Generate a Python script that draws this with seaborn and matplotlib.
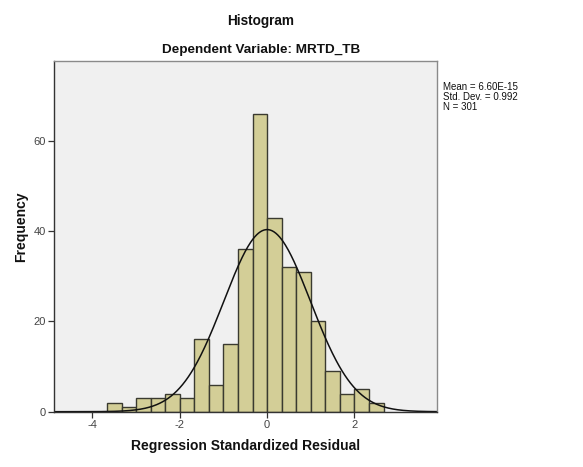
import numpy as np
import pandas as pd
import matplotlib
matplotlib.use("Agg")
import matplotlib.pyplot as plt
import seaborn as sns

# ---- data ----
bin_start = -11 / 3
bin_width = 1 / 3
counts = [2, 1, 3, 3, 4, 3, 16, 6, 15, 36, 66, 43, 32, 31, 20, 9, 4, 5, 2]
mean_val = 6.60e-15
std_val = 0.992
n_obs = 301
x_ticks = [-4, -2, 0, 2]
y_ticks = [0, 20, 40, 60]
title1 = "Histogram"
title2 = "Dependent Variable: MRTD_TB"
x_label = "Regression Standardized Residual"
y_label = "Frequency"
stats_text = "Mean = 6.60E-15\nStd. Dev. = 0.992\nN = 301"

sns.set_style("white")
plt.rcParams["font.family"] = ["Liberation Sans", "DejaVu Sans"]

edges = [bin_start + bin_width * i for i in range(len(counts) + 1)]
centers = [(edges[i] + edges[i + 1]) / 2 for i in range(len(counts))]
df = pd.DataFrame({"resid": centers, "count": counts})

W, H = 583, 467
fig = plt.figure(figsize=(W / 100, H / 100), dpi=100)
fig.patch.set_facecolor("white")
ax = fig.add_axes([54 / W, 1 - 411.7 / H, (437 - 54) / W, (411.7 - 61) / H])
ax.set_facecolor("#F0F0F0")

sns.histplot(data=df, x="resid", weights="count", bins=edges, ax=ax,
             color="#D3CE97", edgecolor="#3A3A30", linewidth=1.0, alpha=1.0)

xlim = (-4.88, 3.89)
xs = np.linspace(xlim[0], xlim[1], 400)
ys = n_obs * bin_width * np.exp(-0.5 * ((xs - mean_val) / std_val) ** 2) / (std_val * np.sqrt(2 * np.pi))
sns.lineplot(x=xs, y=ys, ax=ax, color="#111111", linewidth=1.1)

ax.set_xlim(*xlim)
ax.set_ylim(0, 77.7)
ax.set_xticks(x_ticks)
ax.set_yticks(y_ticks)
ax.set_xticklabels([str(t) for t in x_ticks])
ax.set_yticklabels([str(t) for t in y_ticks])
ax.tick_params(axis="both", direction="out", length=4.5, width=0.9,
               colors="#333333", labelsize=8, labelcolor="#444444", pad=1.5)
ax.tick_params(left=True, bottom=True)
ax.set_xlabel("")
ax.set_ylabel("")
for side in ["left", "bottom"]:
    ax.spines[side].set_color("#333333")
    ax.spines[side].set_linewidth(1.0)
for side in ["top", "right"]:
    ax.spines[side].set_color("#8A8A8A")
    ax.spines[side].set_linewidth(1.0)

fig.text(261 / W, 1 - 21 / H, title1, ha="center", va="center",
         fontsize=9.8, fontweight="bold", color="#111111")
fig.text(261 / W, 1 - 50 / H, title2, ha="center", va="center",
         fontsize=9.7, fontweight="bold", color="#111111")
fig.text(246 / W, 1 - 446 / H, x_label, ha="center", va="center",
         fontsize=10, fontweight="bold", color="#111111")
fig.text(21 / W, 1 - 227 / H, y_label, ha="center", va="center",
         rotation=90, fontsize=10, fontweight="bold", color="#111111")
fig.text(443 / W, 1 - 81.5 / H, stats_text, ha="left", va="top",
         fontsize=7, color="#111111", linespacing=1.02)

fig.savefig("out.png", dpi=100, facecolor="white")
